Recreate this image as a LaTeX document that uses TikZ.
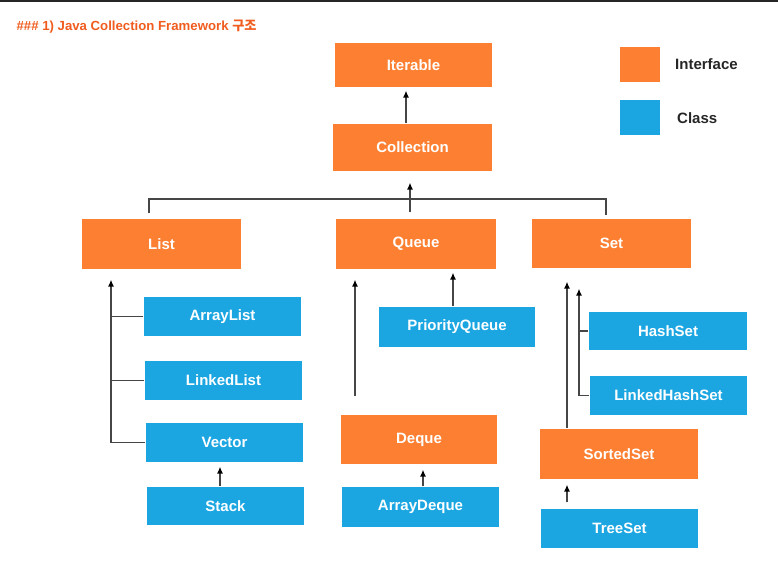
\documentclass[tikz,border=0pt]{standalone}
\usepackage{fontspec}
\setmainfont{Liberation Sans}
\newfontfamily\kofont{Noto Sans CJK KR}
\usepackage{tikz}
\usetikzlibrary{positioning}
\usetikzlibrary{arrows.meta}
\definecolor{ifaceorange}{RGB}{253,128,50}
\definecolor{classblue}{RGB}{27,166,226}
\definecolor{titleorange}{RGB}{240,92,30}
\definecolor{linegray}{RGB}{70,70,70}
\tikzset{every picture/.style={line width=1.2pt}}

\begin{document}
\begin{tikzpicture}[x=1pt, y=-1pt,
  box/.style={inner sep=0pt, text=white, font=\fontsize{15}{18}\selectfont\bfseries, minimum width=157pt, minimum height=39pt},
  iface/.style={box, fill=ifaceorange, minimum height=49pt},
  cls/.style={box, fill=classblue},
  key/.style={inner sep=0pt, minimum width=40pt, minimum height=35pt},
  keytext/.style={inner sep=0pt, text=black!85, font=\fontsize{15}{18}\selectfont\bfseries},
  link/.style={draw=linegray, line width=1.3pt},
  arr/.style={link, -{Latex[length=7pt,width=6pt,fill=black,color=black]}}]
\useasboundingbox (0,0) rectangle (778,565);
\draw[line width=1.5pt, black!85] (0,0.75) -- (778,0.75);
\node (title) at (16,27) [anchor=west, inner sep=0pt, text=titleorange, font=\fontsize{13.2}{15}\selectfont\bfseries] {\#\#\# 1) Java Collection Framework {\kofont 구조}};
% interfaces
\node (iter) at (413.5,65) [iface, minimum height=44pt] {Iterable};
\node (coll) at (412.5,147.5) [iface, minimum width=159pt, minimum height=47pt] {Collection};
\node (list) at (161.5,244) [iface, minimum width=159pt, minimum height=50pt] {List};
\node (queue) at (416,244) [iface, minimum width=160pt, minimum height=50pt] {Queue};
\node (set) at (611.5,243.5) [iface, minimum width=159pt] {Set};
\node (deque) at (419,439.5) [iface, minimum width=156pt] {Deque};
\node (sorted) at (619,454) [iface, minimum width=158pt, minimum height=50pt] {SortedSet};
% classes
\node (alist) at (222.5,316.5) [cls] {ArrayList};
\node (llist) at (223.5,380.5) [cls] {LinkedList};
\node (vector) at (224.5,442.5) [cls] {Vector};
\node (stack) at (225.5,506) [cls, minimum height=38pt] {Stack};
\node (pqueue) at (457,327) [cls, minimum width=156pt, minimum height=40pt] {PriorityQueue};
\node (adeque) at (420.5,507) [cls, minimum height=40pt] {ArrayDeque};
\node (hset) at (668,331) [cls, minimum width=158pt, minimum height=38pt] {HashSet};
\node (lhset) at (668.5,395.5) [cls] {LinkedHashSet};
\node (tset) at (619.5,528.5) [cls] {TreeSet};
% legend
\node (ifacekey) at (640,64.5) [key, fill=ifaceorange] {};
\node (clskey) [below=17pt of ifacekey, key, fill=classblue] {};
\node (ifacelbl) [right=14pt of ifacekey, keytext] {Interface};
\node (clslbl) [right=16pt of clskey, keytext] {Class};
% connectors
\draw[arr, shorten >=3pt] ([xshift=-6.5pt]coll.north) -- ([xshift=-6.5pt]coll.north |- iter.south);
\coordinate (bus) at (410,199);
\draw[link] ([xshift=-12.5pt,yshift=5pt]list.north) |- (bus) -| ([xshift=-5.5pt,yshift=3pt]set.north);
\draw[arr] ([yshift=6pt]queue.north -| bus) -- ([yshift=-11pt]coll.south -| bus);
\coordinate (listbus) at ([xshift=-50.5pt,yshift=-10pt]list.south);
\draw[arr] (vector.west) -| (listbus);
\draw[link] (alist.west) -- (alist.west -| listbus);
\draw[link] (llist.west) -- (llist.west -| listbus);
\draw[arr, shorten >=4pt] ([xshift=-5.5pt]stack.north) -- ([xshift=-5.5pt]stack.north |- vector.south);
\draw[arr, shorten >=3pt] ([xshift=-4pt]pqueue.north) -- ([xshift=-4pt]pqueue.north |- queue.south);
\draw[arr, shorten <=18pt, shorten >=10pt] ([xshift=-64pt]deque.north) -- ([xshift=-64pt]deque.north |- queue.south);
\draw[arr, shorten >=5pt] ([xshift=2.5pt]adeque.north) -- ([xshift=2.5pt]adeque.north |- deque.south);
\draw[arr, shorten >=13pt] ([xshift=-52pt]sorted.north) -- ([xshift=-52pt]sorted.north |- set.south);
\coordinate (setbus) at ([xshift=-32.5pt,yshift=-20pt]set.south);
\draw[arr] (lhset.west) -| (setbus);
\draw[link] (hset.west) -- (hset.west -| setbus);
\draw[arr, shorten >=5pt] ([xshift=-52.5pt,yshift=6pt]tset.north) -- ([xshift=-52.5pt]tset.north |- sorted.south);
\end{tikzpicture}
\end{document}
